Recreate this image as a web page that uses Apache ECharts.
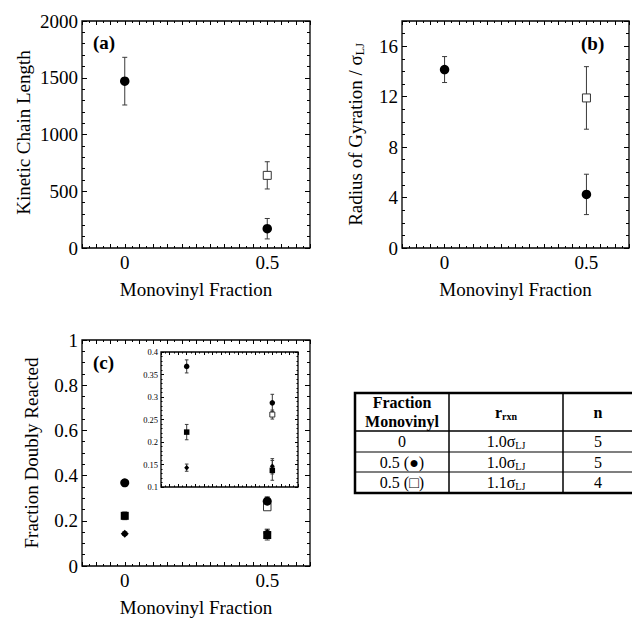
<!DOCTYPE html>
<html><head><meta charset="utf-8">
<script src="https://cdn.jsdelivr.net/npm/echarts@6/dist/echarts.min.js"></script>
<style>html,body{margin:0;padding:0;background:#fff}#c{width:632px;height:618px}</style>
</head><body><div id="c"></div>
<script>
const FONT = 'Liberation Serif';

// shared x categories (monovinyl fraction)
const monovinylFraction = [0, 0.5];
const openX = [0.5];
const xTickLabels = ['0', '0.5'];

// (a) Kinetic chain length
const chainLenFilled = [1470, 170];
const chainLenFilledErr = [210, 90];
const chainLenOpen = [640];
const chainLenOpenErr = [120];

// (b) Radius of gyration / sigma_LJ
const rgFilled = [14.15, 4.25];
const rgFilledErr = [1.03, 1.6];
const rgOpen = [11.9];
const rgOpenErr = [2.48];

// (c) Fraction doubly reacted
const fdrCircle = [0.368, 0.287];
const fdrCircleErr = [0.0145, 0.019];
const fdrSquare = [0.222, 0.137];
const fdrSquareErr = [0.017, 0.022];
const fdrDiamond = [0.143, 0.146];
const fdrDiamondErr = [0.008, 0.017];
const fdrOpen = [0.261];
const fdrOpenErr = [0.01];

// table
const tableHeader = ['Fraction\nMonovinyl', 'r', 'n'];
const tableFraction = ['0', '0.5 (●)', '0.5 (□)'];
const tableRrxn = ['1.0', '1.0', '1.1'];
const tableN = ['5', '5', '4'];

const grids = [
  {left: 82, top: 21, width: 228, height: 227},
  {left: 402, top: 21, width: 228, height: 227},
  {left: 82, top: 340, width: 228, height: 228},
  {left: 161, top: 352, width: 137, height: 135}
].map(g => Object.assign({show: true, borderColor: '#000', borderWidth: 1.3, backgroundColor: '#fff', containLabel: false}, g));

function xLabel(v) {
  if (Math.abs(v) < 1e-6) return xTickLabels[0];
  if (Math.abs(v - 0.5) < 1e-6) return xTickLabels[1];
  return '';
}
function xAxesFor(gi, small) {
  const base = {
    type: 'value', gridIndex: gi, min: -0.15, max: 0.65, interval: 0.05,
    axisLine: {show: false, onZero: false}, splitLine: {show: false},
    axisTick: {inside: true, length: small ? 3 : 4, lineStyle: {color: '#000', width: 1}},
    minorTick: {show: true, splitNumber: 2, length: small ? 1.5 : 2, lineStyle: {color: '#000', width: 1}}
  };
  return [
    Object.assign({}, base, {position: 'bottom',
      name: small ? '' : 'Monovinyl Fraction', nameLocation: 'middle', nameGap: 32,
      nameTextStyle: {fontFamily: FONT, fontSize: 19, color: '#000'},
      axisLabel: {show: !small, formatter: xLabel, fontFamily: FONT, fontSize: 19, color: '#000', margin: 5}}),
    Object.assign({}, base, {position: 'top', axisLabel: {show: false}})
  ];
}
function yAxesFor(gi, o) {
  const base = {
    type: 'value', gridIndex: gi, min: o.min, max: o.max, interval: o.interval,
    axisLine: {show: false, onZero: false}, splitLine: {show: false},
    axisTick: {inside: true, length: o.small ? 3 : 5, lineStyle: {color: '#000', width: 1}},
    minorTick: {show: true, splitNumber: o.minor, length: o.small ? 1.5 : 3, lineStyle: {color: '#000', width: 1}}
  };
  return [
    Object.assign({}, base, {position: 'left',
      name: o.name || '', nameLocation: 'middle', nameGap: o.gap || 40,
      nameTextStyle: Object.assign({fontFamily: FONT, fontSize: 19, color: '#000'}, o.nameStyle || {}),
      axisLabel: {formatter: o.fmt, fontFamily: FONT, fontSize: o.small ? 8.5 : 19, color: '#000', margin: o.small ? 3 : 4}}),
    Object.assign({}, base, {position: 'right', axisLabel: {show: false}})
  ];
}

const xAxis = [].concat(xAxesFor(0), xAxesFor(1), xAxesFor(2), xAxesFor(3, true));
const yAxis = [].concat(
  yAxesFor(0, {min: 0, max: 2000, interval: 500, minor: 5, name: 'Kinetic Chain Length', gap: 49,
    nameStyle: {padding: [0, 0, 0, 4]}, fmt: v => String(v)}),
  yAxesFor(1, {min: 0, max: 18, interval: 4, minor: 4, gap: 36,
    name: '{m|Radius of Gyration / σ}{s|LJ}',
    nameStyle: {rich: {m: {fontFamily: FONT, fontSize: 19, color: '#000', lineHeight: 22},
                       s: {fontFamily: FONT, fontSize: 12, color: '#000', verticalAlign: 'bottom', lineHeight: 14}}},
    fmt: v => (v > 17 ? '' : String(v))}),
  yAxesFor(2, {min: 0, max: 1, interval: 0.2, minor: 4, name: 'Fraction Doubly Reacted', gap: 41,
    fmt: v => String(Math.round(v * 10) / 10)}),
  yAxesFor(3, {min: 0.1, max: 0.4, interval: 0.05, minor: 5, small: true,
    fmt: v => String(Math.round(v * 100) / 100)})
);

function pts(xs, ys) { return xs.map((x, i) => [x, ys[i]]); }
function errPts(xs, ys, es) { return xs.map((x, i) => [x, ys[i], es[i]]); }

function errSeries(gi, data, cap) {
  return {
    type: 'custom', xAxisIndex: gi * 2, yAxisIndex: gi * 2, z: 2,
    encode: {x: 0, y: 1}, data: data, silent: true,
    renderItem: function (params, api) {
      const x = api.value(0), y = api.value(1), e = api.value(2);
      const t = api.coord([x, y + e]);
      const b = api.coord([x, y - e]);
      const st = {stroke: '#3a3a3a', lineWidth: 1};
      return {type: 'group', children: [
        {type: 'line', shape: {x1: t[0], y1: t[1], x2: b[0], y2: b[1]}, style: st},
        {type: 'line', shape: {x1: t[0] - cap, y1: t[1], x2: t[0] + cap, y2: t[1]}, style: st},
        {type: 'line', shape: {x1: b[0] - cap, y1: b[1], x2: b[0] + cap, y2: b[1]}, style: st}
      ]};
    }
  };
}
function markSeries(gi, data, symbol, size, open) {
  return {
    type: 'scatter', xAxisIndex: gi * 2, yAxisIndex: gi * 2, z: 3,
    data: data, symbol: symbol, symbolSize: size, silent: true,
    itemStyle: open ? {color: '#fff', borderColor: '#333', borderWidth: 1, opacity: 1}
                    : {color: '#000', opacity: 1}
  };
}

const series = [];
function addGroup(gi, xs, ys, es, symbol, size, cap, open) {
  series.push(errSeries(gi, errPts(xs, ys, es), cap));
  series.push(markSeries(gi, pts(xs, ys), symbol, size, open));
}
// (a)
addGroup(0, openX, chainLenOpen, chainLenOpenErr, 'rect', 8, 2.5, true);
addGroup(0, monovinylFraction, chainLenFilled, chainLenFilledErr, 'circle', 9.5, 2.5, false);
// (b)
addGroup(1, openX, rgOpen, rgOpenErr, 'rect', 8, 2.5, true);
addGroup(1, monovinylFraction, rgFilled, rgFilledErr, 'circle', 9.5, 2.5, false);
// (c) main
addGroup(2, openX, fdrOpen, fdrOpenErr, 'rect', 7.5, 2.5, true);
addGroup(2, monovinylFraction, fdrCircle, fdrCircleErr, 'circle', 9, 2.5, false);
addGroup(2, monovinylFraction, fdrSquare, fdrSquareErr, 'rect', 8, 2.5, false);
addGroup(2, monovinylFraction, fdrDiamond, fdrDiamondErr, 'diamond', [8, 8], 2.5, false);
// (c) inset
addGroup(3, openX, fdrOpen, fdrOpenErr, 'rect', 5, 1.8, true);
addGroup(3, monovinylFraction, fdrCircle, fdrCircleErr, 'circle', 5.5, 1.8, false);
addGroup(3, monovinylFraction, fdrSquare, fdrSquareErr, 'rect', 5.5, 1.8, false);
addGroup(3, monovinylFraction, fdrDiamond, fdrDiamondErr, 'diamond', [5, 5.5], 1.8, false);

// table graphics
const T = {left: 355, top: 393, right: 635, bottom: 493, cols: [449, 563], rows: [431, 452, 472]};
const colCenters = [(T.left + T.cols[0]) / 2, (T.cols[0] + T.cols[1]) / 2, (T.cols[1] + 633) / 2];
const rowCenters = [(T.rows[0] + T.rows[1]) / 2, (T.rows[1] + T.rows[2]) / 2, (T.rows[2] + T.bottom) / 2];
const headerCenter = (T.top + T.rows[0]) / 2;
const graphic = [];
graphic.push({type: 'rect', shape: {x: T.left, y: T.top, width: T.right - T.left, height: T.bottom - T.top},
  style: {fill: 'none', stroke: '#000', lineWidth: 2.5}, z: 10});
T.rows.forEach((y, i) => graphic.push({type: 'line', shape: {x1: T.left, y1: y, x2: T.right, y2: y},
  style: {stroke: '#000', lineWidth: i === 0 ? 1.6 : 1.2}, z: 10}));
T.cols.forEach(x => graphic.push({type: 'line', shape: {x1: x, y1: T.top, x2: x, y2: T.bottom},
  style: {stroke: '#000', lineWidth: 1.5}, z: 10}));
function txt(x, y, text, extra) {
  graphic.push({type: 'text', x: x, y: y, z: 11, style: Object.assign({
    text: text, fontFamily: FONT, fontSize: 16, fill: '#000', align: 'center', verticalAlign: 'middle'}, extra || {})});
}
const subRich = (bold) => ({
  m: {fontFamily: FONT, fontSize: 16, fontWeight: bold ? 'bold' : 'normal', fill: '#000', lineHeight: 18},
  s: {fontFamily: FONT, fontSize: 10, fontWeight: bold ? 'bold' : 'normal', fill: '#000', verticalAlign: 'bottom', lineHeight: 12}
});
txt(colCenters[0], headerCenter, tableHeader[0], {fontWeight: 'bold', lineHeight: 19});
txt(colCenters[1], headerCenter, '{m|' + tableHeader[1] + '}{s|rxn}', {rich: subRich(true)});
txt(colCenters[2], headerCenter, tableHeader[2], {fontWeight: 'bold'});
rowCenters.forEach((y, i) => {
  txt(colCenters[0], y, tableFraction[i]);
  txt(colCenters[1], y, '{m|' + tableRrxn[i] + 'σ}{s|LJ}', {rich: subRich(false)});
  txt(colCenters[2], y, tableN[i]);
});
// panel letters
[['(a)', 93, 42], ['(b)', 581, 43], ['(c)', 93, 362]].forEach(p => graphic.push({
  type: 'text', x: p[1], y: p[2], z: 11,
  style: {text: p[0], fontFamily: FONT, fontSize: 19, fontWeight: 'bold', fill: '#000', align: 'left', verticalAlign: 'middle'}
}));

const chart = echarts.init(document.getElementById('c'), null, {renderer: 'svg'});
chart.setOption({
  animation: false,
  backgroundColor: '#fff',
  textStyle: {fontFamily: FONT},
  grid: grids,
  xAxis: xAxis,
  yAxis: yAxis,
  series: series,
  graphic: graphic
});
</script>
</body></html>
